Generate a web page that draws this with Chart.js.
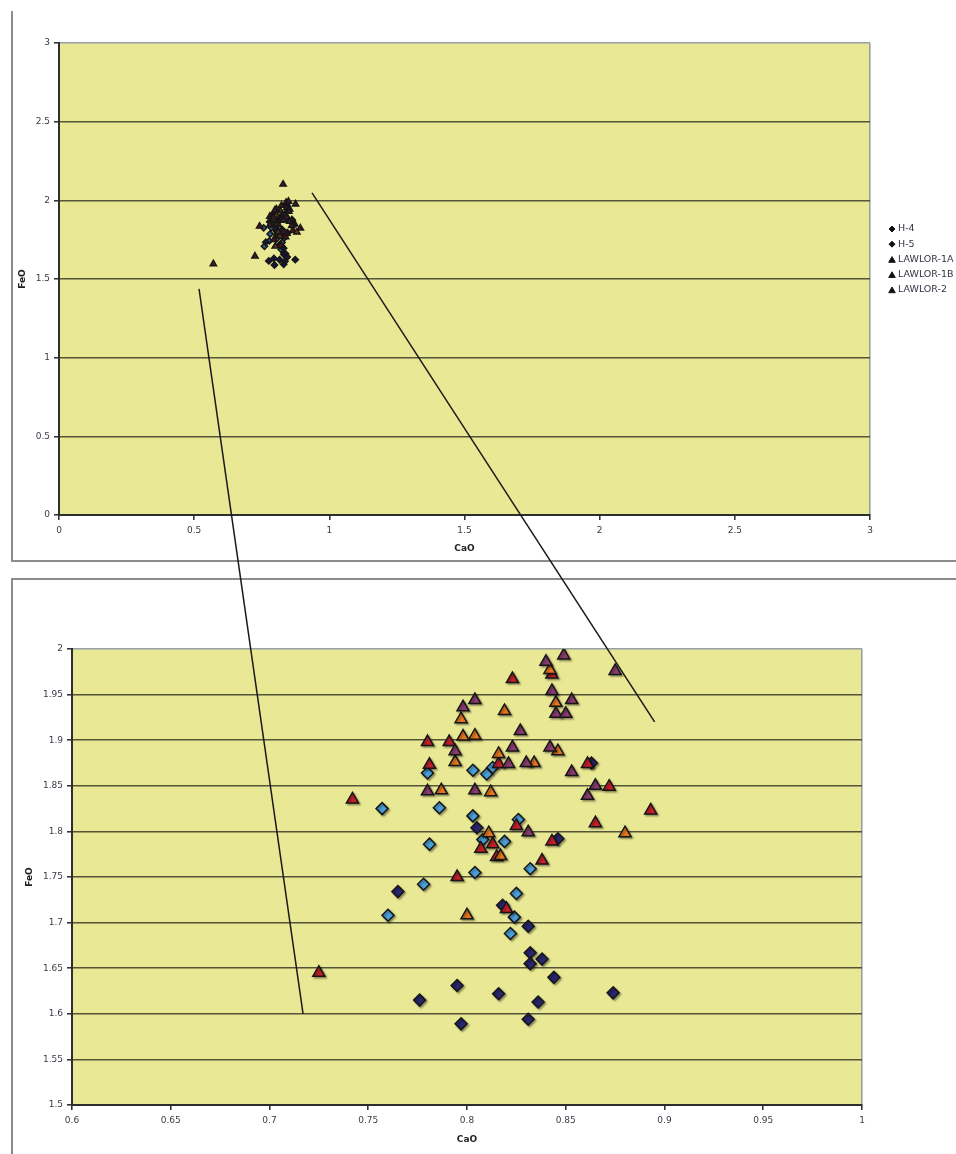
<!DOCTYPE html>
<html>
<head>
<meta charset="utf-8">
<script src="https://cdn.jsdelivr.net/npm/chart.js@4.4.1/dist/chart.umd.min.js"></script>
<style>
  html, body { margin: 0; padding: 0; background: #fff; overflow: hidden; }
  body { width: 956px; height: 1154px; position: relative; }
  .frame { position: absolute; border: 0 solid #8c8c8c; }
  #frameTop { left: 11px; top: 11px; width: 960px; height: 549px; border-left-width: 2px; border-bottom-width: 2px; }
  #frameBottom { left: 11px; top: 578px; width: 960px; height: 600px; border-left-width: 2px; border-top-width: 2px; }
  .wrap { position: absolute; left: 0; width: 956px; }
  #wrapTop { top: 0; height: 570px; }
  #wrapBottom { top: 570px; height: 584px; }
  #overlay { position: absolute; left: 0; top: 0; pointer-events: none; }
</style>
</head>
<body>
<div class="frame" id="frameTop"></div>
<div class="frame" id="frameBottom"></div>
<div class="wrap" id="wrapTop"><canvas id="chartTop"></canvas></div>
<div class="wrap" id="wrapBottom"><canvas id="chartBottom"></canvas></div>
<canvas id="overlay" width="956" height="1154"></canvas>
<script>
// series names
var seriesNames = ["H-4", "H-5", "LAWLOR-1A", "LAWLOR-1B", "LAWLOR-2"];

// CaO / FeO values per series
var h4CaO = [0.780, 0.803, 0.810, 0.813, 0.757, 0.786, 0.803, 0.826, 0.781, 0.808, 0.819, 0.832, 0.804, 0.778, 0.825, 0.824, 0.760, 0.822];
var h4FeO = [1.864, 1.867, 1.863, 1.870, 1.825, 1.826, 1.817, 1.813, 1.786, 1.791, 1.789, 1.759, 1.755, 1.742, 1.732, 1.706, 1.708, 1.688];

var h5CaO = [0.863, 0.805, 0.846, 0.765, 0.818, 0.831, 0.832, 0.832, 0.838, 0.844, 0.795, 0.776, 0.816, 0.836, 0.874, 0.797, 0.831];
var h5FeO = [1.875, 1.804, 1.792, 1.734, 1.719, 1.696, 1.667, 1.655, 1.660, 1.640, 1.631, 1.615, 1.622, 1.613, 1.623, 1.589, 1.594];

var l1aCaO = [0.843, 0.823, 0.780, 0.791, 0.781, 0.816, 0.861, 0.872, 0.893, 0.825, 0.865, 0.813, 0.843, 0.807, 0.815, 0.838, 0.795, 0.820, 0.742, 0.725, 0.571];
var l1aFeO = [1.972, 1.967, 1.898, 1.898, 1.873, 1.874, 1.874, 1.849, 1.823, 1.806, 1.809, 1.786, 1.789, 1.781, 1.772, 1.768, 1.750, 1.715, 1.835, 1.645, 1.596];

var l1bCaO = [0.842, 0.845, 0.797, 0.819, 0.798, 0.804, 0.794, 0.846, 0.816, 0.834, 0.787, 0.812, 0.811, 0.880, 0.817, 0.800];
var l1bFeO = [1.977, 1.941, 1.923, 1.932, 1.904, 1.905, 1.876, 1.888, 1.885, 1.875, 1.845, 1.843, 1.798, 1.798, 1.773, 1.708];

var l2CaO = [0.840, 0.849, 0.875, 0.843, 0.853, 0.845, 0.850, 0.804, 0.798, 0.827, 0.794, 0.823, 0.842, 0.821, 0.830, 0.853, 0.780, 0.804, 0.865, 0.861, 0.831, 0.829];
var l2FeO = [1.986, 1.993, 1.976, 1.954, 1.944, 1.929, 1.929, 1.944, 1.936, 1.910, 1.888, 1.892, 1.892, 1.874, 1.875, 1.865, 1.844, 1.845, 1.850, 1.839, 1.799, 2.102];

// zoom connector lines: start in top chart units, end in bottom chart units
var zoomStartCaO = [0.518, 0.936];
var zoomStartFeO = [1.437, 2.047];
var zoomEndCaO = [0.717, 0.895];
var zoomEndFeO = [1.600, 1.920];

var seriesX = [h4CaO, h5CaO, l1aCaO, l1bCaO, l2CaO];
var seriesY = [h4FeO, h5FeO, l1aFeO, l1bFeO, l2FeO];
var seriesColors = ["#4a9fd8", "#28266e", "#c8202a", "#e8781e", "#8c3c70"];
var seriesDark = ["#2c5878", "#16163c", "#521418", "#5e3818", "#3c1a30"];
var seriesShapes = ["rectRot", "rectRot", "triangle", "triangle", "triangle"];

var plotBg = "#e9e894";
var gridDark = "rgba(68,68,48,0.9)";
var frameGray = "#96a0a6";
var tickText = "#3a3a48";

function toPoints(xs, ys) {
    var pts = [];
    for (var i = 0; i < xs.length; i++) {
        pts.push({ x: xs[i], y: ys[i] });
    }
    return pts;
}

function makeDatasets(small) {
    var sets = [];
    for (var i = 0; i < seriesNames.length; i++) {
        var tri = seriesShapes[i] === "triangle";
        sets.push({
            label: seriesNames[i],
            data: toPoints(seriesX[i], seriesY[i]),
            pointStyle: seriesShapes[i],
            backgroundColor: small ? seriesDark[i] : seriesColors[i],
            borderColor: "#161616",
            borderWidth: small ? 1.4 : 1.5,
            pointRadius: small ? (tri ? 3.7 : 3.2) : (tri ? 7 : 6),
            pointHoverRadius: small ? 3 : 7,
            order: seriesNames.length - i
        });
    }
    return sets;
}

var plotArea = {
    id: "plotArea",
    beforeDraw: function (chart) {
        var a = chart.chartArea;
        var ctx = chart.ctx;
        ctx.save();
        ctx.fillStyle = plotBg;
        ctx.fillRect(a.left, a.top, a.right - a.left, a.bottom - a.top);
        ctx.restore();
    }
};

var markerShadow = {
    id: "markerShadow",
    beforeDatasetsDraw: function (chart, args, opts) {
        if (!opts.on) return;
        var ctx = chart.ctx;
        ctx.save();
        ctx.shadowColor = "rgba(0,0,0,0.35)";
        ctx.shadowBlur = 2;
        ctx.shadowOffsetX = 1.5;
        ctx.shadowOffsetY = 1.5;
    },
    afterDatasetsDraw: function (chart, args, opts) {
        if (!opts.on) return;
        chart.ctx.restore();
    }
};

var sideLegend = {
    id: "sideLegend",
    afterDraw: function (chart, args, opts) {
        var ctx = chart.ctx;
        ctx.save();
        chart.data.datasets.forEach(function (ds, i) {
            var y = opts.y + i * opts.step;
            var tri = ds.pointStyle === "triangle";
            ctx.fillStyle = opts.markerFill || ds.backgroundColor;
            ctx.strokeStyle = "#161616";
            ctx.lineWidth = opts.borderWidth;
            Chart.helpers.drawPoint(ctx, {
                pointStyle: ds.pointStyle,
                radius: tri ? opts.radius + 0.8 : opts.radius,
                rotation: 0,
                borderWidth: opts.borderWidth
            }, opts.x, tri ? y + 1 : y);
            ctx.fillStyle = opts.color;
            ctx.font = opts.font;
            ctx.textBaseline = "middle";
            ctx.textAlign = "left";
            ctx.fillText(ds.label, opts.textX, y);
        });
        ctx.restore();
    }
};

function fmt(v) {
    return String(+(+v).toFixed(2));
}

function makeOptions(c) {
    return {
        responsive: true,
        maintainAspectRatio: false,
        animation: false,
        layout: { padding: { top: c.padTop, right: c.padRight, left: 0, bottom: 0 } },
        plugins: {
            legend: { display: false },
            tooltip: { enabled: false },
            markerShadow: { on: c.shadow },
            sideLegend: c.legend
        },
        scales: {
            x: {
                type: "linear",
                min: c.xMin,
                max: c.xMax,
                afterFit: function (scale) { scale.height = c.xHeight; },
                ticks: {
                    stepSize: c.xStep,
                    autoSkip: false,
                    maxRotation: 0,
                    padding: 5,
                    color: tickText,
                    font: { family: "DejaVu Sans", size: 9 },
                    callback: fmt
                },
                grid: {
                    drawOnChartArea: true,
                    drawTicks: true,
                    tickLength: 5,
                    tickColor: "#2a2a2a",
                    tickWidth: 1.5,
                    lineWidth: 1.6,
                    color: function (ctx) {
                        return ctx.tick && Math.abs(ctx.tick.value - c.xMax) < 1e-9 ? frameGray : "rgba(0,0,0,0)";
                    }
                },
                border: { display: true, color: "#2e2e2e", width: 2 },
                title: {
                    display: true,
                    text: "CaO",
                    color: "#222",
                    font: { family: "DejaVu Sans", size: 9, weight: "bold" },
                    padding: { top: 0, bottom: c.xTitlePad }
                }
            },
            y: {
                type: "linear",
                min: c.yMin,
                max: c.yMax,
                afterFit: function (scale) { scale.width = c.yWidth; },
                ticks: {
                    stepSize: c.yStep,
                    autoSkip: false,
                    padding: 4,
                    color: tickText,
                    font: { family: "DejaVu Sans", size: 9 },
                    callback: fmt
                },
                grid: {
                    drawTicks: true,
                    tickLength: 5,
                    tickColor: "#2a2a2a",
                    tickWidth: 1.5,
                    lineWidth: 1.6,
                    color: function (ctx) {
                        return ctx.tick && Math.abs(ctx.tick.value - c.yMax) < 1e-9 ? frameGray : gridDark;
                    }
                },
                border: { display: true, color: "#2e2e2e", width: 2 },
                title: {
                    display: true,
                    text: "FeO",
                    color: "#222",
                    font: { family: "DejaVu Sans", size: 9, weight: "bold" },
                    padding: { top: c.yTitlePad, bottom: 0 }
                }
            }
        }
    };
}

var topChart = new Chart(document.getElementById("chartTop"), {
    type: "scatter",
    data: { datasets: makeDatasets(true) },
    options: makeOptions({
        xMin: 0, xMax: 3, xStep: 0.5,
        yMin: 0, yMax: 3, yStep: 0.5,
        padTop: 43, padRight: 86,
        yWidth: 59, xHeight: 55,
        xTitlePad: 16, yTitlePad: 17,
        shadow: false,
        legend: { x: 892, textX: 898, y: 229, step: 15.2, radius: 3, borderWidth: 1, markerFill: "#111",
                  font: "9.5px 'DejaVu Sans'", color: "#333344" }
    }),
    plugins: [plotArea, markerShadow, sideLegend]
});

var bottomChart = new Chart(document.getElementById("chartBottom"), {
    type: "scatter",
    data: { datasets: makeDatasets(false) },
    options: makeOptions({
        xMin: 0.6, xMax: 1, xStep: 0.05,
        yMin: 1.5, yMax: 2, yStep: 0.05,
        padTop: 79, padRight: 94,
        yWidth: 72, xHeight: 49,
        xTitlePad: 9, yTitlePad: 24,
        shadow: true,
        legend: { x: 889, textX: 896, y: 850, step: 16.2, radius: 4, borderWidth: 1.2,
                  font: "9.5px 'DejaVu Sans'", color: "#33334f" }
    }),
    plugins: [plotArea, markerShadow, sideLegend]
});

// connector lines between the overview and the zoomed chart
function drawConnectors() {
    var ov = document.getElementById("overlay");
    var ctx = ov.getContext("2d");
    var topOff = document.getElementById("wrapTop").offsetTop;
    var botOff = document.getElementById("wrapBottom").offsetTop;
    ctx.clearRect(0, 0, ov.width, ov.height);
    ctx.strokeStyle = "#1a1a1a";
    ctx.lineWidth = 1.5;
    for (var i = 0; i < zoomStartCaO.length; i++) {
        var x0 = topChart.scales.x.getPixelForValue(zoomStartCaO[i]);
        var y0 = topOff + topChart.scales.y.getPixelForValue(zoomStartFeO[i]);
        var x1 = bottomChart.scales.x.getPixelForValue(zoomEndCaO[i]);
        var y1 = botOff + bottomChart.scales.y.getPixelForValue(zoomEndFeO[i]);
        ctx.beginPath();
        ctx.moveTo(x0, y0);
        ctx.lineTo(x1, y1);
        ctx.stroke();
    }
}
drawConnectors();
</script>
</body>
</html>
